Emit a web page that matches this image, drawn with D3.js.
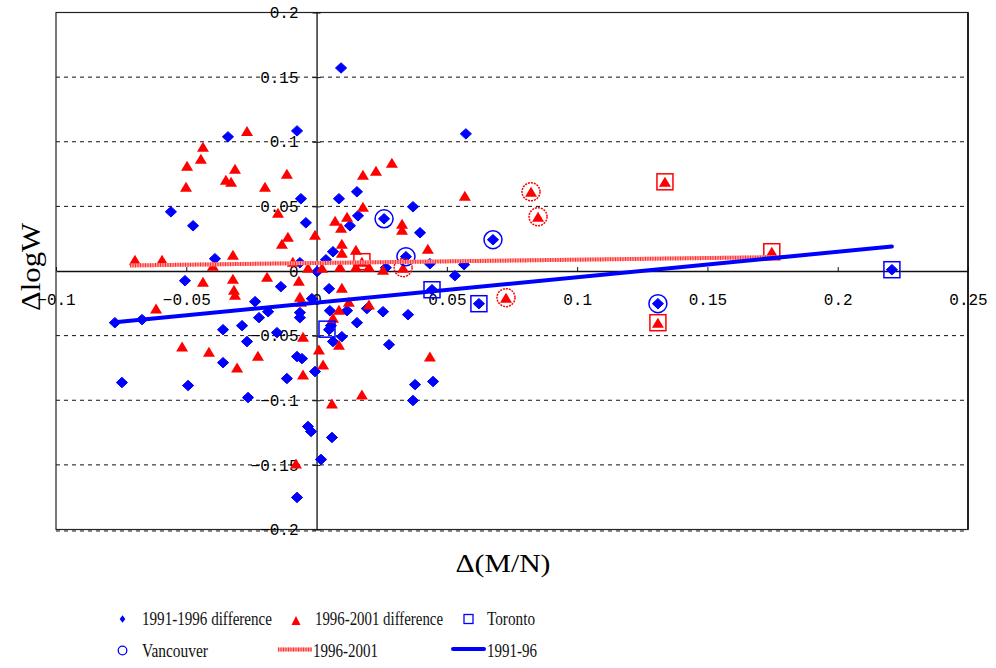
<!DOCTYPE html>
<html><head><meta charset="utf-8">
<script src="https://cdn.jsdelivr.net/npm/d3@7"></script>
<style>body{margin:0;background:#fff}svg{display:block}</style>
</head><body>
<svg id="c" width="996" height="668"></svg>
<script>
// ---- data ----
const xTicks = [-0.1, -0.05, 0, 0.05, 0.1, 0.15, 0.2, 0.25];
const yTicks = [-0.2, -0.15, -0.1, -0.05, 0, 0.05, 0.1, 0.15, 0.2];
const legendLabels = ["1991-1996 difference", "1996-2001 difference", "Toronto", "Vancouver", "1996-2001", "1991-96"];

// 1991-1996 difference (blue diamonds)
const diff9196 = [
[0.0094,0.1571],[-0.0075,0.1084],[-0.0340,0.1038],[0.0573,0.1061],[-0.0559,0.0458],[-0.0474,0.0350],
[-0.0060,0.0559],[-0.0041,0.0373],[0.0086,0.0559],[0.0155,0.0613],[0.0159,0.0427],[0.0128,0.0350],
[0.0370,0.0497],[0.0397,0.0296],[0.0063,0.0149],[0.0036,0.0087],[-0.0390,0.0095],[-0.0064,0.0064],
[0.0002,-0.0005],[0.0435,0.0056],[0.0566,0.0049],[0.0531,-0.0036],[0.0266,0.0026],[-0.0505,-0.0075],
[-0.0137,-0.0121],[0.0048,-0.0137],[-0.0018,-0.0214],[-0.0236,-0.0237],[-0.0186,-0.0315],[-0.0221,-0.0361],
[-0.0064,-0.0322],[-0.0064,-0.0361],[0.0051,-0.0307],[0.0117,-0.0307],[0.0155,-0.0400],[0.0193,-0.0291],
[0.0255,-0.0315],[0.0351,-0.0338],[-0.0774,-0.0400],[-0.0670,-0.0376],[-0.0359,-0.0454],[-0.0286,-0.0423],
[-0.0267,-0.0546],[-0.0152,-0.0477],[-0.0359,-0.0709],[-0.0747,-0.0863],[-0.0493,-0.0886],[-0.0263,-0.0979],
[-0.0114,-0.0832],[-0.0075,-0.0662],[-0.0056,-0.0678],[-0.0006,-0.0778],[-0.0033,-0.1203],[-0.0021,-0.1242],
[0.0059,-0.1288],[0.0017,-0.1458],[-0.0075,-0.1752],[0.0278,-0.0570],[0.0097,-0.0508],[0.0063,-0.0546],
[0.0378,-0.0879],[0.0447,-0.0855],[0.0370,-0.1002],[0.0048,-0.0454],[0.0055,-0.0423],
[0.0443,-0.0145],[0.0623,-0.0253],[0.2208,0.0010],
[0.0259,0.0404],[0.0343,0.0111],[0.0677,0.0242],[0.1310,-0.0253]
];
// 1996-2001 difference (red triangles)
const diff9601 = [
[-0.0267,0.1084],[-0.0436,0.0961],[-0.0444,0.0868],[-0.0497,0.0814],[-0.0313,0.0791],[-0.0348,0.0706],
[-0.0328,0.0690],[-0.0114,0.0752],[-0.0501,0.0651],[-0.0198,0.0651],[-0.0148,0.0451],[-0.0110,0.0265],
[-0.0133,0.0211],[-0.0006,0.0281],[-0.0321,0.0126],[-0.0697,0.0087],[-0.0593,0.0087],[-0.0398,0.0041],
[-0.0091,0.0072],[0.0071,0.0389],[0.0117,0.0420],[0.0094,0.0335],[0.0178,0.0744],[0.0228,0.0775],
[0.0289,0.0837],[0.0178,0.0497],[0.0328,0.0366],[0.0328,0.0319],[0.0427,0.0172],[0.0569,0.0582],
[0.0097,0.0211],[0.0097,0.0141],[0.0151,0.0165],[0.0255,0.0010],[-0.0033,0.0026],[0.0021,0.0026],
[0.0090,0.0033],[0.0151,0.0033],[0.0201,0.0033],[-0.0190,-0.0044],[-0.0436,-0.0083],[-0.0321,-0.0060],
[-0.0317,-0.0145],[-0.0313,-0.0183],[-0.0068,-0.0075],[-0.0064,-0.0199],[-0.0060,-0.0237],[-0.0616,-0.0291],
[-0.0516,-0.0585],[-0.0413,-0.0624],[-0.0305,-0.0747],[-0.0225,-0.0655],[-0.0052,-0.0508],[-0.0052,-0.0801],
[0.0009,-0.0608],[0.0025,-0.0724],[-0.0079,-0.1489],[0.0059,-0.1026],[0.0174,-0.0956],[0.0097,-0.0129],
[0.0063,-0.0361],[0.0086,-0.0299],[0.0086,-0.0570],[0.0124,-0.0237],[0.0201,-0.0260],[0.0435,-0.0662],
[0.0823,0.0613],[0.0850,0.0420],[0.0727,-0.0206],[0.0332,0.0026],
[0.1337,0.0690],[0.1310,-0.0400],[0.1747,0.0149],[0.0174,0.0072]
];
// Toronto / Vancouver highlights: [x, y, period]
const toronto = [
[0.0443,-0.0145,"9196"],[0.0623,-0.0253,"9196"],[0.2208,0.0010,"9196"],[0.0040,-0.0450,"9196"],
[0.1337,0.0690,"9601"],[0.1310,-0.0400,"9601"],[0.1747,0.0149,"9601"],[0.0174,0.0072,"9601"]
];
const vancouver = [
[0.0259,0.0404,"9196"],[0.0343,0.0111,"9196"],[0.0677,0.0242,"9196"],[0.1310,-0.0253,"9196"],
[0.0823,0.0613,"9601"],[0.0850,0.0420,"9601"],[0.0727,-0.0206,"9601"],[0.0332,0.0026,"9601"]
];
// fitted lines (endpoints)
const fit9196 = [[-0.0774,-0.0397],[0.2208,0.0190]];
const fit9601 = [[-0.0716,0.0043],[0.1767,0.0107]];

// ---- drawing ----
const BLUE = "#0000ff", RED = "#ff0000";
const svg = d3.select("#c");
const L = 56, R = 968, T = 12.5, B = 529.5;
const x = d3.scaleLinear().domain([-0.1, 0.25]).range([L, R]);
const y = d3.scaleLinear().domain([-0.2, 0.2]).range([B, T]);
const fmt = v => (v < 0 ? "\u2212" : "") + String(Math.abs(+v.toFixed(2)));
const col = p => p === "9196" ? BLUE : RED;
const TICKFONT = "Liberation Mono, DejaVu Sans Mono, monospace";

// gridlines
svg.append("g").selectAll("line")
  .data(yTicks.filter(v => v !== 0 && v !== 0.2))
  .join("line")
  .attr("x1", L).attr("x2", R - 3)
  .attr("y1", d => y(d) + (d === -0.2 ? 1.5 : 0)).attr("y2", d => y(d) + (d === -0.2 ? 1.5 : 0))
  .attr("stroke", "#111").attr("stroke-width", 1).attr("stroke-dasharray", "4,4");

// frame
svg.append("rect").attr("x", L).attr("y", T).attr("width", R - L).attr("height", B - T)
  .attr("fill", "none").attr("stroke", "#222").attr("stroke-width", 1.2);
svg.append("line").attr("x1", R).attr("x2", R).attr("y1", T).attr("y2", B)
  .attr("stroke", "#222").attr("stroke-width", 2);

// x axis at y=0
const gx = svg.append("g").attr("transform", `translate(0,${y(0)})`)
  .call(d3.axisBottom(x).tickValues(xTicks).tickFormat(fmt).tickSizeInner(-4).tickSizeOuter(0).tickPadding(23));
gx.select(".domain").attr("stroke", "#111").attr("stroke-width", 1.3);
gx.selectAll(".tick line").attr("stroke", "#111");
gx.selectAll("text").attr("font-family", TICKFONT).attr("font-size", 16).attr("fill", "#000");

// y axis at x=0
const gy = svg.append("g").attr("transform", `translate(${x(0)},0)`)
  .call(d3.axisLeft(y).tickValues(yTicks).tickFormat(fmt).tickSizeInner(4).tickSizeOuter(0).tickPadding(14));
gy.select(".domain").attr("stroke", "#111").attr("stroke-width", 1.3);
gy.selectAll(".tick line").attr("x1", 4).attr("stroke", "#111");
gy.selectAll("text").attr("font-family", TICKFONT).attr("font-size", 16).attr("fill", "#000");

// markers
const diamond = (w, h) => `M0,${-h}L${w},0L0,${h}L${-w},0Z`;
const tri = (w, h) => `M0,${-h/2}L${w/2},${h/2}L${-w/2},${h/2}Z`;

svg.append("g").selectAll("path").data(diff9196).join("path")
  .attr("transform", d => `translate(${x(d[0])},${y(d[1])})`)
  .attr("d", diamond(5.6, 5.2)).attr("fill", BLUE)
  .attr("stroke", BLUE).attr("stroke-width", 1).attr("stroke-linejoin", "round");

svg.append("g").selectAll("path").data(diff9601).join("path")
  .attr("transform", d => `translate(${x(d[0])},${y(d[1])})`)
  .attr("d", tri(12, 10)).attr("fill", RED);

svg.append("g").selectAll("rect").data(toronto).join("rect")
  .attr("x", d => x(d[0]) - 8).attr("y", d => y(d[1]) - 8)
  .attr("width", 16).attr("height", 16)
  .attr("fill", "none").attr("stroke", d => col(d[2])).attr("stroke-width", 1.5);

svg.append("g").selectAll("circle").data(vancouver).join("circle")
  .attr("cx", d => x(d[0])).attr("cy", d => y(d[1])).attr("r", 9)
  .attr("fill", "none").attr("stroke", d => col(d[2])).attr("stroke-width", 1.5)
  .attr("stroke-dasharray", d => d[2] === "9601" ? "2,1" : null);

// fitted lines
const line = d3.line().x(d => x(d[0])).y(d => y(d[1]));
svg.append("path").datum(fit9601).attr("d", line)
  .attr("stroke", "#ff9a9a").attr("stroke-width", 4).attr("fill", "none");
svg.append("path").datum(fit9601).attr("d", line)
  .attr("stroke", "#ff3030").attr("stroke-width", 4).attr("stroke-dasharray", "1,1.5").attr("fill", "none");
svg.append("path").datum(fit9196).attr("d", line)
  .attr("stroke", BLUE).attr("stroke-width", 4).attr("stroke-linecap", "round").attr("fill", "none");

// axis titles
svg.append("text").attr("x", 503).attr("y", 572).attr("text-anchor", "middle")
  .attr("font-family", "Liberation Serif, Times New Roman, serif").attr("font-size", 26)
  .attr("textLength", 95).attr("lengthAdjust", "spacingAndGlyphs")
  .text("\u0394(M/N)");
svg.append("text").attr("transform", "translate(40,267) rotate(-90)").attr("text-anchor", "middle")
  .attr("font-family", "Liberation Serif, Times New Roman, serif").attr("font-size", 27)
  .attr("textLength", 88).attr("lengthAdjust", "spacingAndGlyphs")
  .text("\u0394logW");

// legend
const lg = svg.append("g").attr("font-family", "Liberation Serif, Times New Roman, serif").attr("font-size", 18).attr("fill", "#111");
const r1 = 625, r2 = 656.5;
lg.append("path").attr("transform", "translate(122.5,619)").attr("d", diamond(2.8, 3.8)).attr("fill", BLUE);
lg.append("path").attr("transform", "translate(296,620.5)").attr("d", tri(9, 9)).attr("fill", RED);
lg.append("rect").attr("x", 464).attr("y", 614.5).attr("width", 9).attr("height", 9).attr("fill", "none").attr("stroke", BLUE).attr("stroke-width", 1.3);
lg.append("circle").attr("cx", 122.5).attr("cy", 650.5).attr("r", 4.3).attr("fill", "none").attr("stroke", BLUE).attr("stroke-width", 1.3);
lg.append("line").attr("x1", 278).attr("x2", 312).attr("y1", 649.5).attr("y2", 649.5).attr("stroke", "#ff9a9a").attr("stroke-width", 4);
lg.append("line").attr("x1", 278).attr("x2", 312).attr("y1", 649.5).attr("y2", 649.5).attr("stroke", "#ff3030").attr("stroke-width", 4).attr("stroke-dasharray", "1,1.5");
lg.append("line").attr("x1", 453).attr("x2", 484).attr("y1", 649).attr("y2", 649).attr("stroke", BLUE).attr("stroke-width", 4).attr("stroke-linecap", "round");
const legendPos = [[142, r1, 130], [315, r1, 128], [487, r1, 48], [142, r2, 66], [313, r2, 65], [487, r2, 50]];
legendLabels.forEach((t, i) => {
  lg.append("text").attr("x", legendPos[i][0]).attr("y", legendPos[i][1])
    .attr("textLength", legendPos[i][2]).attr("lengthAdjust", "spacingAndGlyphs").text(t);
});
</script>
</body></html>
